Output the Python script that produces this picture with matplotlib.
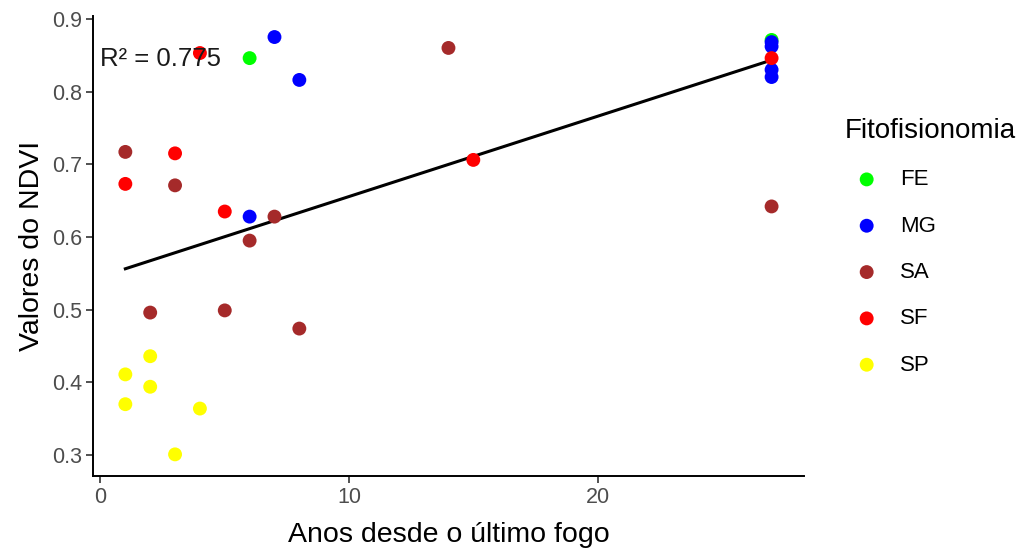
import numpy
import matplotlib
matplotlib.use('Agg')
import matplotlib.pyplot as pyplot

pyplot.rcParams['font.family'] = ['Liberation Sans', 'DejaVu Sans']

# Years since last fire and NDVI, by vegetation type
groups = ['FE', 'MG', 'SA', 'SF', 'SP']
colors = ['#00FF00', '#0000FF', '#A52A2A', '#FF0000', '#FFFF00']

fe_x = [6, 27]
fe_y = [0.846, 0.871]
mg_x = [6, 7, 8, 27, 27, 27, 27]
mg_y = [0.628, 0.875, 0.816, 0.868, 0.862, 0.830, 0.820]
sa_x = [1, 2, 3, 5, 6, 7, 8, 14, 27]
sa_y = [0.717, 0.496, 0.671, 0.499, 0.595, 0.628, 0.474, 0.860, 0.642]
sf_x = [1, 3, 4, 5, 15, 27]
sf_y = [0.673, 0.715, 0.853, 0.635, 0.706, 0.846]
sp_x = [1, 1, 2, 2, 3, 4]
sp_y = [0.411, 0.370, 0.436, 0.394, 0.301, 0.364]

r2_label = 'R² = 0.775'

xs = [fe_x, mg_x, sa_x, sf_x, sp_x]
ys = [fe_y, mg_y, sa_y, sf_y, sp_y]

fig = pyplot.figure(figsize=(10.28, 5.5), dpi=100)
ax = fig.add_axes([0.0905, 0.1345, 0.6915, 0.8365])

all_x = numpy.concatenate([numpy.array(x, float) for x in xs])
all_y = numpy.concatenate([numpy.array(y, float) for y in ys])
slope, intercept = numpy.polyfit(all_x, all_y, 1)
line_x = numpy.linspace(all_x.min(), all_x.max(), 50)
ax.plot(line_x, intercept + slope * line_x, color='black', lw=2.2, zorder=2)

handles = []
for name, col, x, y in zip(groups, colors, xs, ys):
    h = ax.scatter(x, y, s=100, color=col, edgecolors='none', label=name, zorder=3)
    handles.append(h)

ax.text(2.41, 0.845, r2_label, ha='center', va='center', fontsize=18.5, color='#1a1a1a', zorder=4)

ax.set_xlim(-0.3, 28.3)
ax.set_ylim(0.2712, 0.904)
ax.set_xticks([0, 10, 20])
ax.set_yticks([0.3, 0.4, 0.5, 0.6, 0.7, 0.8, 0.9])
ax.set_yticklabels(['0.3', '0.4', '0.5', '0.6', '0.7', '0.8', '0.9'])
ax.set_xlabel('Anos desde o último fogo', fontsize=20.5, color='black', labelpad=10)
ax.set_ylabel('Valores do NDVI', fontsize=20.5, color='black', labelpad=5)
ax.tick_params(axis='both', labelsize=15.5, labelcolor='#4D4D4D', color='#333333',
               length=5, width=1.2, pad=3)
for side in ['top', 'right']:
    ax.spines[side].set_visible(False)
for side in ['left', 'bottom']:
    ax.spines[side].set_linewidth(1.4)
    ax.spines[side].set_color('black')

leg = ax.legend(handles=handles, title='Fitofisionomia', loc='upper left',
                bbox_to_anchor=(0.802, 0.822), bbox_transform=fig.transFigure,
                frameon=False, fontsize=16, title_fontsize=20,
                labelspacing=1.14, handletextpad=0.5, markerscale=1.0)
leg._legend_box.align = 'left'

pyplot.savefig('out.png')
